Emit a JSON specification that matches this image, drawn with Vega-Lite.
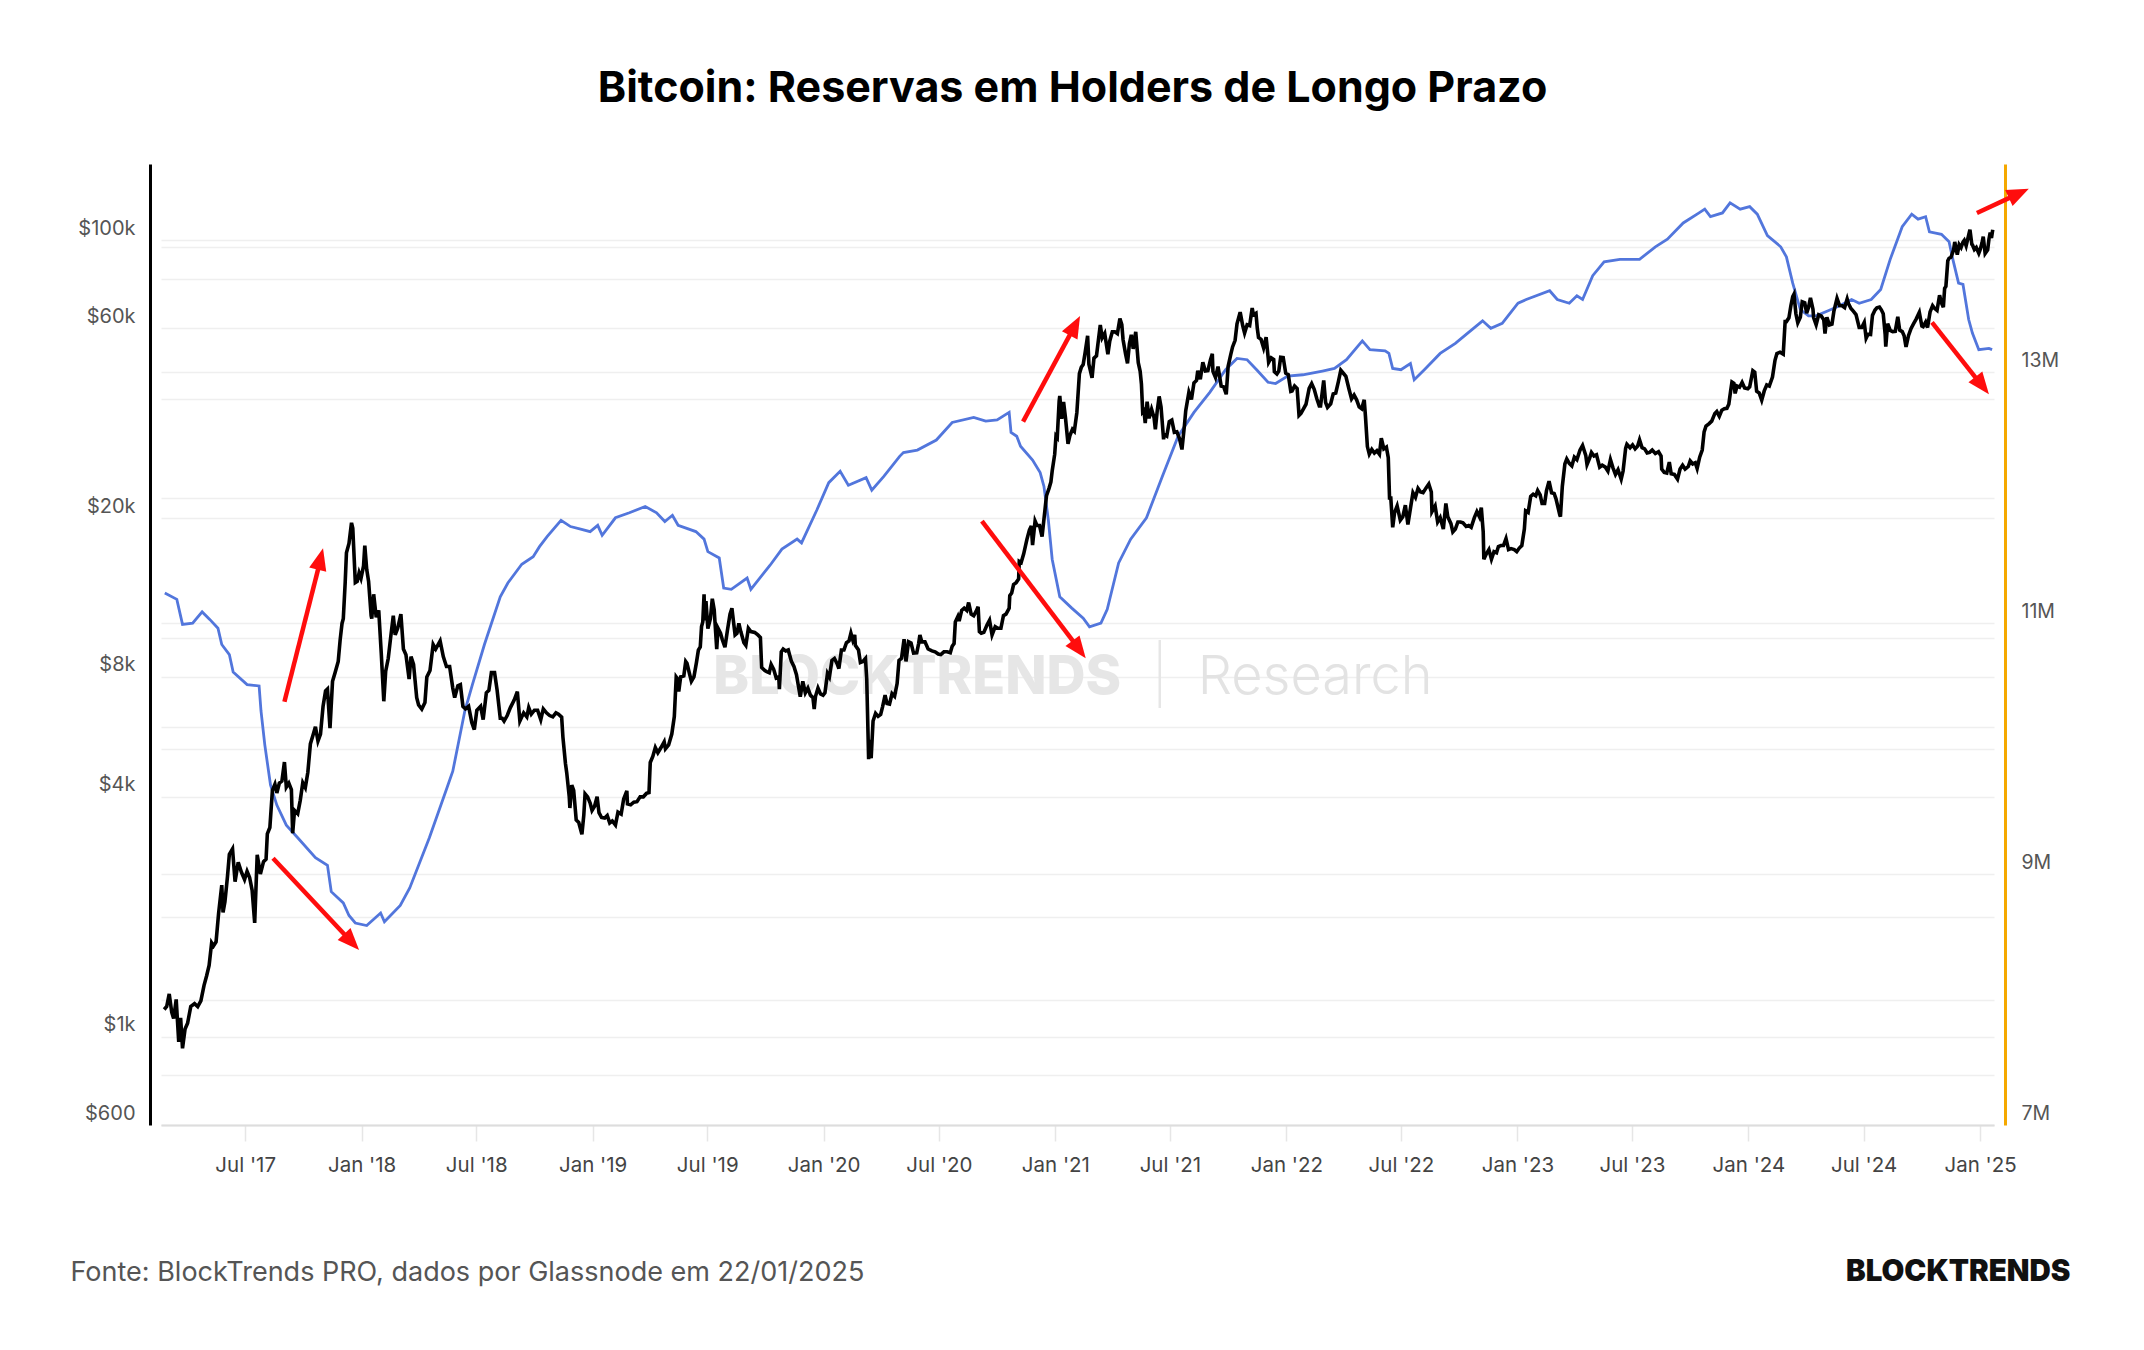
{
  "$schema": "https://vega.github.io/schema/vega-lite/v6.json",
  "width": 1833,
  "height": 961,
  "autosize": {"type": "none"},
  "padding": {"left": 161, "top": 164, "right": 150, "bottom": 225},
  "background": "white",
  "config": {"view": {"stroke": null}, "font": "Inter"},
  "title": {"text": "Bitcoin: Reservas em Holders de Longo Prazo", "font": "Inter", "fontSize": 43, "fontWeight": 700, "color": "#000000", "anchor": "middle", "frame": "group", "offset": 53, "dx": -5},
  "datasets": {
    "wm": [
      {"label": "BLOCKTRENDS", "date": "2021-04-15", "price": 7250},
      {"label": "Research", "date": "2021-08-14", "price": 7250}
    ],
    "wmsep": [{"date": "2021-06-15", "price": 9903, "price2": 6685}],
    "shafts": [
      {"id": 1, "date": "2017-09-01", "price": 6932, "date2": "2017-10-28", "price2": 15740},
      {"id": 2, "date": "2017-08-14", "price": 2804, "date2": "2017-12-15", "price2": 1736},
      {"id": 3, "date": "2020-11-11", "price": 34990, "date2": "2021-01-31", "price2": 60630},
      {"id": 4, "date": "2020-09-07", "price": 19700, "date2": "2021-02-07", "price2": 9419},
      {"id": 5, "date": "2024-12-27", "price": 116900, "date2": "2025-03-02", "price2": 130600},
      {"id": 6, "date": "2024-10-17", "price": 62150, "date2": "2025-01-03", "price2": 43280}
    ],
    "heads": [
      {"id": 1, "date": "2017-11-01", "price": 16836},
      {"id": 2, "date": "2017-12-28", "price": 1650},
      {"id": 3, "date": "2021-02-09", "price": 64470},
      {"id": 4, "date": "2021-02-18", "price": 8911},
      {"id": 5, "date": "2025-03-19", "price": 134500},
      {"id": 6, "date": "2025-01-15", "price": 41000}
    ],
    "lth": [
      {"date":"2017-02-24","supply":11.24},{"date":"2017-03-15","supply":11.19},{"date":"2017-03-24","supply":10.99},{"date":"2017-04-09","supply":11.00},{"date":"2017-04-24","supply":11.09},{"date":"2017-05-06","supply":11.03},{"date":"2017-05-19","supply":10.96},{"date":"2017-05-25","supply":10.83},{"date":"2017-06-06","supply":10.75},{"date":"2017-06-12","supply":10.61},{"date":"2017-07-04","supply":10.51},{"date":"2017-07-23","supply":10.50},{"date":"2017-07-26","supply":10.30},{"date":"2017-08-01","supply":10.03},{"date":"2017-08-10","supply":9.71},{"date":"2017-08-20","supply":9.55},{"date":"2017-09-04","supply":9.39},{"date":"2017-09-22","supply":9.29},{"date":"2017-10-20","supply":9.13},{"date":"2017-11-08","supply":9.07},{"date":"2017-11-14","supply":8.86},{"date":"2017-12-03","supply":8.77},{"date":"2017-12-12","supply":8.67},{"date":"2017-12-22","supply":8.61},
      {"date":"2018-01-09","supply":8.59},{"date":"2018-01-31","supply":8.69},{"date":"2018-02-06","supply":8.62},{"date":"2018-03-03","supply":8.75},{"date":"2018-03-18","supply":8.89},{"date":"2018-04-18","supply":9.29},{"date":"2018-05-16","supply":9.69},{"date":"2018-05-25","supply":9.82},{"date":"2018-06-13","supply":10.30},{"date":"2018-06-25","supply":10.51},{"date":"2018-07-14","supply":10.83},{"date":"2018-08-08","supply":11.21},{"date":"2018-08-20","supply":11.32},{"date":"2018-09-11","supply":11.47},{"date":"2018-09-29","supply":11.53},{"date":"2018-10-09","supply":11.61},{"date":"2018-10-21","supply":11.69},{"date":"2018-11-12","supply":11.82},{"date":"2018-11-27","supply":11.77},{"date":"2018-12-13","supply":11.75},{"date":"2018-12-28","supply":11.73},
      {"date":"2019-01-09","supply":11.78},{"date":"2019-01-16","supply":11.70},{"date":"2019-02-06","supply":11.84},{"date":"2019-02-28","supply":11.88},{"date":"2019-03-25","supply":11.93},{"date":"2019-04-12","supply":11.88},{"date":"2019-04-25","supply":11.81},{"date":"2019-05-07","supply":11.86},{"date":"2019-05-16","supply":11.78},{"date":"2019-06-13","supply":11.73},{"date":"2019-06-26","supply":11.67},{"date":"2019-07-02","supply":11.57},{"date":"2019-07-20","supply":11.52},{"date":"2019-07-27","supply":11.28},{"date":"2019-08-08","supply":11.27},{"date":"2019-09-02","supply":11.36},{"date":"2019-09-08","supply":11.27},{"date":"2019-10-08","supply":11.46},{"date":"2019-10-27","supply":11.59},{"date":"2019-11-20","supply":11.67},{"date":"2019-11-27","supply":11.64},{"date":"2019-12-21","supply":11.90},
      {"date":"2020-01-09","supply":12.12},{"date":"2020-01-27","supply":12.21},{"date":"2020-02-09","supply":12.10},{"date":"2020-03-08","supply":12.16},{"date":"2020-03-17","supply":12.06},{"date":"2020-04-05","supply":12.17},{"date":"2020-04-30","supply":12.33},{"date":"2020-05-06","supply":12.36},{"date":"2020-05-28","supply":12.38},{"date":"2020-06-27","supply":12.46},{"date":"2020-07-22","supply":12.60},{"date":"2020-08-25","supply":12.64},{"date":"2020-09-13","supply":12.61},{"date":"2020-10-01","supply":12.62},{"date":"2020-10-20","supply":12.68},{"date":"2020-10-23","supply":12.52},{"date":"2020-11-01","supply":12.49},{"date":"2020-11-07","supply":12.41},{"date":"2020-11-26","supply":12.30},{"date":"2020-12-08","supply":12.20},{"date":"2020-12-14","supply":12.09},{"date":"2020-12-21","supply":11.82},{"date":"2020-12-27","supply":11.51},
      {"date":"2021-01-08","supply":11.21},{"date":"2021-01-27","supply":11.12},{"date":"2021-02-14","supply":11.04},{"date":"2021-02-24","supply":10.97},{"date":"2021-03-14","supply":11.00},{"date":"2021-03-24","supply":11.11},{"date":"2021-04-11","supply":11.48},{"date":"2021-04-30","supply":11.67},{"date":"2021-05-25","supply":11.84},{"date":"2021-06-19","supply":12.17},{"date":"2021-07-14","supply":12.49},{"date":"2021-08-08","supply":12.68},{"date":"2021-09-02","supply":12.84},{"date":"2021-09-27","supply":13.02},{"date":"2021-10-15","supply":13.11},{"date":"2021-10-31","supply":13.10},{"date":"2021-11-15","supply":13.02},{"date":"2021-12-03","supply":12.92},{"date":"2021-12-15","supply":12.91},
      {"date":"2022-01-03","supply":12.97},{"date":"2022-01-27","supply":12.98},{"date":"2022-02-27","supply":13.01},{"date":"2022-03-18","supply":13.03},{"date":"2022-04-06","supply":13.10},{"date":"2022-05-01","supply":13.25},{"date":"2022-05-13","supply":13.18},{"date":"2022-06-06","supply":13.17},{"date":"2022-06-12","supply":13.15},{"date":"2022-06-18","supply":13.03},{"date":"2022-07-01","supply":13.02},{"date":"2022-07-16","supply":13.07},{"date":"2022-07-22","supply":12.94},{"date":"2022-08-07","supply":13.02},{"date":"2022-09-01","supply":13.15},{"date":"2022-09-25","supply":13.23},{"date":"2022-10-14","supply":13.31},{"date":"2022-11-07","supply":13.41},{"date":"2022-11-20","supply":13.35},{"date":"2022-12-08","supply":13.39},
      {"date":"2023-01-02","supply":13.55},{"date":"2023-01-15","supply":13.58},{"date":"2023-02-21","supply":13.65},{"date":"2023-03-05","supply":13.58},{"date":"2023-03-24","supply":13.55},{"date":"2023-04-05","supply":13.61},{"date":"2023-04-14","supply":13.58},{"date":"2023-04-30","supply":13.77},{"date":"2023-05-18","supply":13.88},{"date":"2023-06-12","supply":13.90},{"date":"2023-07-13","supply":13.90},{"date":"2023-08-07","supply":14.00},{"date":"2023-08-26","supply":14.06},{"date":"2023-09-20","supply":14.19},{"date":"2023-10-15","supply":14.27},{"date":"2023-10-24","supply":14.30},{"date":"2023-11-02","supply":14.24},{"date":"2023-11-21","supply":14.27},{"date":"2023-12-03","supply":14.35},{"date":"2023-12-19","supply":14.30},
      {"date":"2024-01-03","supply":14.32},{"date":"2024-01-15","supply":14.26},{"date":"2024-01-31","supply":14.09},{"date":"2024-02-21","supply":14.00},{"date":"2024-03-01","supply":13.92},{"date":"2024-03-11","supply":13.71},{"date":"2024-03-23","supply":13.50},{"date":"2024-04-05","supply":13.45},{"date":"2024-04-17","supply":13.45},{"date":"2024-05-06","supply":13.49},{"date":"2024-05-24","supply":13.53},{"date":"2024-06-12","supply":13.58},{"date":"2024-06-24","supply":13.55},{"date":"2024-07-13","supply":13.58},{"date":"2024-07-28","supply":13.66},{"date":"2024-08-12","supply":13.90},{"date":"2024-08-31","supply":14.16},{"date":"2024-09-15","supply":14.26},{"date":"2024-09-25","supply":14.22},{"date":"2024-10-07","supply":14.24},{"date":"2024-10-13","supply":14.12},{"date":"2024-11-01","supply":14.10},{"date":"2024-11-13","supply":14.04},{"date":"2024-11-19","supply":13.90},{"date":"2024-11-28","supply":13.71},{"date":"2024-12-05","supply":13.70},{"date":"2024-12-14","supply":13.42},{"date":"2024-12-20","supply":13.31},{"date":"2024-12-30","supply":13.18},{"date":"2025-01-15","supply":13.19},{"date":"2025-01-20","supply":13.18}
    ],
    "btc": [
      {"date":"2017-02-23","price":1170},{"date":"2017-02-27","price":1190},{"date":"2017-03-03","price":1280},{"date":"2017-03-07","price":1150},{"date":"2017-03-10","price":1110},{"date":"2017-03-14","price":1240},{"date":"2017-03-18","price":970},{"date":"2017-03-21","price":1115},{"date":"2017-03-24","price":935},{"date":"2017-03-28","price":1045},{"date":"2017-04-01","price":1080},{"date":"2017-04-06","price":1190},{"date":"2017-04-12","price":1210},{"date":"2017-04-17","price":1190},{"date":"2017-04-22","price":1230},{"date":"2017-04-27","price":1345},{"date":"2017-05-01","price":1420},{"date":"2017-05-05","price":1510},{"date":"2017-05-09","price":1720},{"date":"2017-05-12","price":1690},{"date":"2017-05-16","price":1730},{"date":"2017-05-20","price":2040},{"date":"2017-05-25","price":2400},{"date":"2017-05-27","price":2050},{"date":"2017-05-30","price":2180},{"date":"2017-06-03","price":2520},{"date":"2017-06-06","price":2870},{"date":"2017-06-11","price":2960},{"date":"2017-06-15","price":2450},{"date":"2017-06-20","price":2740},{"date":"2017-06-25","price":2590},{"date":"2017-06-30","price":2480},{"date":"2017-07-04","price":2600},{"date":"2017-07-08","price":2510},{"date":"2017-07-12","price":2330},{"date":"2017-07-16","price":1930},{"date":"2017-07-20","price":2860},{"date":"2017-07-25","price":2560},{"date":"2017-07-30","price":2750},{"date":"2017-08-03","price":2790},{"date":"2017-08-05","price":3230},{"date":"2017-08-09","price":3350},{"date":"2017-08-13","price":4150},{"date":"2017-08-17","price":4300},{"date":"2017-08-20","price":4090},{"date":"2017-08-24","price":4330},{"date":"2017-08-28","price":4380},{"date":"2017-09-01","price":4890},{"date":"2017-09-04","price":4230},{"date":"2017-09-08","price":4330},{"date":"2017-09-12","price":4170},{"date":"2017-09-14","price":3240},{"date":"2017-09-17","price":3700},{"date":"2017-09-22","price":3630},{"date":"2017-09-26","price":3920},{"date":"2017-09-30","price":4340},{"date":"2017-10-04","price":4220},{"date":"2017-10-08","price":4610},{"date":"2017-10-12","price":5430},{"date":"2017-10-16","price":5700},{"date":"2017-10-20","price":6000},{"date":"2017-10-24","price":5520},{"date":"2017-10-28","price":5750},{"date":"2017-11-01","price":6740},{"date":"2017-11-05","price":7380},{"date":"2017-11-08","price":7460},{"date":"2017-11-12","price":5950},{"date":"2017-11-16","price":7800},{"date":"2017-11-20","price":8200},{"date":"2017-11-25","price":8750},{"date":"2017-11-28","price":9900},{"date":"2017-12-01","price":10900},{"date":"2017-12-03","price":11200},{"date":"2017-12-06","price":13800},{"date":"2017-12-08","price":16400},{"date":"2017-12-12","price":17300},{"date":"2017-12-16","price":19500},{"date":"2017-12-18","price":18900},{"date":"2017-12-22","price":13800},{"date":"2017-12-25","price":13900},{"date":"2017-12-28","price":14600},{"date":"2017-12-31","price":14150},
      {"date":"2018-01-04","price":15200},{"date":"2018-01-06","price":17100},{"date":"2018-01-09","price":14900},{"date":"2018-01-12","price":13900},{"date":"2018-01-16","price":11400},{"date":"2018-01-17","price":11200},{"date":"2018-01-20","price":12900},{"date":"2018-01-24","price":11300},{"date":"2018-01-28","price":11750},{"date":"2018-02-01","price":9170},{"date":"2018-02-05","price":6950},{"date":"2018-02-08","price":8270},{"date":"2018-02-12","price":8900},{"date":"2018-02-16","price":10100},{"date":"2018-02-20","price":11400},{"date":"2018-02-23","price":10200},{"date":"2018-02-27","price":10600},{"date":"2018-03-04","price":11500},{"date":"2018-03-08","price":9400},{"date":"2018-03-12","price":9100},{"date":"2018-03-17","price":7900},{"date":"2018-03-20","price":9000},{"date":"2018-03-24","price":8600},{"date":"2018-03-29","price":7100},{"date":"2018-04-01","price":6800},{"date":"2018-04-06","price":6640},{"date":"2018-04-11","price":6900},{"date":"2018-04-14","price":8000},{"date":"2018-04-19","price":8300},{"date":"2018-04-24","price":9650},{"date":"2018-04-28","price":9400},{"date":"2018-05-05","price":9850},{"date":"2018-05-10","price":9000},{"date":"2018-05-15","price":8500},{"date":"2018-05-20","price":8500},{"date":"2018-05-25","price":7500},{"date":"2018-05-28","price":7100},{"date":"2018-06-02","price":7600},{"date":"2018-06-06","price":7650},{"date":"2018-06-10","price":6750},{"date":"2018-06-14","price":6650},{"date":"2018-06-19","price":6750},{"date":"2018-06-24","price":6150},{"date":"2018-06-28","price":5900},{"date":"2018-07-02","price":6600},{"date":"2018-07-08","price":6750},{"date":"2018-07-12","price":6250},{"date":"2018-07-17","price":7300},{"date":"2018-07-21","price":7400},{"date":"2018-07-25","price":8200},{"date":"2018-07-30","price":8200},{"date":"2018-08-03","price":7420},{"date":"2018-08-08","price":6300},{"date":"2018-08-11","price":6300},{"date":"2018-08-14","price":6200},{"date":"2018-08-19","price":6400},{"date":"2018-08-24","price":6700},{"date":"2018-08-30","price":7000},{"date":"2018-09-04","price":7350},{"date":"2018-09-08","price":6200},{"date":"2018-09-14","price":6500},{"date":"2018-09-19","price":6350},{"date":"2018-09-22","price":6700},{"date":"2018-09-26","price":6450},{"date":"2018-10-01","price":6600},{"date":"2018-10-06","price":6600},{"date":"2018-10-11","price":6250},{"date":"2018-10-15","price":6650},{"date":"2018-10-20","price":6500},{"date":"2018-10-25","price":6400},{"date":"2018-10-30","price":6350},{"date":"2018-11-04","price":6500},{"date":"2018-11-08","price":6450},{"date":"2018-11-13","price":6340},{"date":"2018-11-15","price":5650},{"date":"2018-11-19","price":4850},{"date":"2018-11-21","price":4600},{"date":"2018-11-25","price":4000},{"date":"2018-11-26","price":3750},{"date":"2018-11-29","price":4280},{"date":"2018-12-02","price":4150},{"date":"2018-12-06","price":3500},{"date":"2018-12-10","price":3450},{"date":"2018-12-15","price":3220},{"date":"2018-12-18","price":3600},{"date":"2018-12-20","price":4070},{"date":"2018-12-24","price":4000},{"date":"2018-12-28","price":3860},{"date":"2018-12-31","price":3700},
      {"date":"2019-01-04","price":3790},{"date":"2019-01-08","price":4000},{"date":"2019-01-11","price":3650},{"date":"2019-01-15","price":3550},{"date":"2019-01-20","price":3540},{"date":"2019-01-24","price":3590},{"date":"2019-01-28","price":3440},{"date":"2019-02-01","price":3480},{"date":"2019-02-06","price":3400},{"date":"2019-02-10","price":3660},{"date":"2019-02-15","price":3620},{"date":"2019-02-19","price":3950},{"date":"2019-02-24","price":4140},{"date":"2019-02-25","price":3840},{"date":"2019-03-02","price":3820},{"date":"2019-03-07","price":3880},{"date":"2019-03-12","price":3890},{"date":"2019-03-17","price":4000},{"date":"2019-03-22","price":4000},{"date":"2019-03-27","price":4080},{"date":"2019-03-31","price":4100},{"date":"2019-04-02","price":4880},{"date":"2019-04-06","price":5050},{"date":"2019-04-10","price":5320},{"date":"2019-04-14","price":5160},{"date":"2019-04-19","price":5320},{"date":"2019-04-24","price":5500},{"date":"2019-04-26","price":5280},{"date":"2019-05-01","price":5400},{"date":"2019-05-06","price":5750},{"date":"2019-05-10","price":6360},{"date":"2019-05-13","price":8000},{"date":"2019-05-16","price":7880},{"date":"2019-05-17","price":7350},{"date":"2019-05-20","price":8000},{"date":"2019-05-25","price":8050},{"date":"2019-05-28","price":8750},{"date":"2019-05-30","price":8660},{"date":"2019-06-03","price":8150},{"date":"2019-06-06","price":7800},{"date":"2019-06-10","price":8000},{"date":"2019-06-14","price":8700},{"date":"2019-06-17","price":9340},{"date":"2019-06-20","price":9520},{"date":"2019-06-22","price":10700},{"date":"2019-06-24","price":11000},{"date":"2019-06-26","price":12900},{"date":"2019-06-27","price":11100},{"date":"2019-06-29","price":12400},{"date":"2019-07-02","price":10580},{"date":"2019-07-06","price":11200},{"date":"2019-07-09","price":12570},{"date":"2019-07-12","price":11800},{"date":"2019-07-16","price":9400},{"date":"2019-07-18","price":10600},{"date":"2019-07-22","price":10300},{"date":"2019-07-25","price":9900},{"date":"2019-07-29","price":9500},{"date":"2019-08-02","price":10500},{"date":"2019-08-06","price":11500},{"date":"2019-08-09","price":11900},{"date":"2019-08-14","price":10200},{"date":"2019-08-17","price":10300},{"date":"2019-08-20","price":10900},{"date":"2019-08-23","price":10400},{"date":"2019-08-28","price":9750},{"date":"2019-08-31","price":9600},{"date":"2019-09-04","price":10600},{"date":"2019-09-08","price":10400},{"date":"2019-09-14","price":10350},{"date":"2019-09-19","price":10200},{"date":"2019-09-23","price":10050},{"date":"2019-09-25","price":8450},{"date":"2019-09-30","price":8300},{"date":"2019-10-03","price":8250},{"date":"2019-10-07","price":8200},{"date":"2019-10-10","price":8600},{"date":"2019-10-14","price":8360},{"date":"2019-10-18","price":7950},{"date":"2019-10-22","price":8000},{"date":"2019-10-23","price":7450},{"date":"2019-10-26","price":9250},{"date":"2019-10-29","price":9400},{"date":"2019-11-02","price":9300},{"date":"2019-11-06","price":9350},{"date":"2019-11-11","price":8750},{"date":"2019-11-15","price":8500},{"date":"2019-11-19","price":8100},{"date":"2019-11-22","price":7600},{"date":"2019-11-25","price":7140},{"date":"2019-11-29","price":7800},{"date":"2019-12-03","price":7300},{"date":"2019-12-07","price":7500},{"date":"2019-12-11","price":7200},{"date":"2019-12-15","price":7100},{"date":"2019-12-17","price":6640},{"date":"2019-12-19","price":7140},{"date":"2019-12-23","price":7500},{"date":"2019-12-27","price":7250},{"date":"2019-12-31","price":7200},
      {"date":"2020-01-03","price":7300},{"date":"2020-01-07","price":8160},{"date":"2020-01-10","price":8000},{"date":"2020-01-14","price":8800},{"date":"2020-01-18","price":8900},{"date":"2020-01-22","price":8650},{"date":"2020-01-25","price":8400},{"date":"2020-01-29","price":9350},{"date":"2020-02-02","price":9350},{"date":"2020-02-06","price":9750},{"date":"2020-02-10","price":9850},{"date":"2020-02-13","price":10300},{"date":"2020-02-16","price":9900},{"date":"2020-02-19","price":10200},{"date":"2020-02-20","price":9600},{"date":"2020-02-25","price":9350},{"date":"2020-02-28","price":8700},{"date":"2020-03-03","price":8750},{"date":"2020-03-07","price":8900},{"date":"2020-03-09","price":7900},{"date":"2020-03-12","price":4970},{"date":"2020-03-13","price":5560},{"date":"2020-03-16","price":5000},{"date":"2020-03-19","price":6200},{"date":"2020-03-23","price":6480},{"date":"2020-03-27","price":6370},{"date":"2020-03-31","price":6440},{"date":"2020-04-03","price":6730},{"date":"2020-04-07","price":7200},{"date":"2020-04-10","price":6860},{"date":"2020-04-14","price":6840},{"date":"2020-04-18","price":7260},{"date":"2020-04-22","price":7150},{"date":"2020-04-26","price":7700},{"date":"2020-04-29","price":8800},{"date":"2020-05-03","price":8910},{"date":"2020-05-07","price":9950},{"date":"2020-05-10","price":8750},{"date":"2020-05-14","price":9800},{"date":"2020-05-18","price":9730},{"date":"2020-05-22","price":9180},{"date":"2020-05-27","price":9200},{"date":"2020-05-30","price":9700},{"date":"2020-06-01","price":10200},{"date":"2020-06-04","price":9800},{"date":"2020-06-09","price":9800},{"date":"2020-06-14","price":9400},{"date":"2020-06-20","price":9300},{"date":"2020-06-25","price":9250},{"date":"2020-06-30","price":9130},{"date":"2020-07-04","price":9100},{"date":"2020-07-09","price":9250},{"date":"2020-07-14","price":9250},{"date":"2020-07-19","price":9200},{"date":"2020-07-22","price":9550},{"date":"2020-07-25","price":9700},{"date":"2020-07-27","price":11000},{"date":"2020-07-31","price":11350},{"date":"2020-08-02","price":11050},{"date":"2020-08-06","price":11750},{"date":"2020-08-10","price":11900},{"date":"2020-08-14","price":11750},{"date":"2020-08-17","price":12300},{"date":"2020-08-21","price":11500},{"date":"2020-08-25","price":11400},{"date":"2020-08-29","price":11700},{"date":"2020-09-01","price":12000},{"date":"2020-09-03","price":10400},{"date":"2020-09-06","price":10300},{"date":"2020-09-10","price":10350},{"date":"2020-09-15","price":10800},{"date":"2020-09-19","price":11100},{"date":"2020-09-23","price":10200},{"date":"2020-09-28","price":10700},{"date":"2020-10-02","price":10600},{"date":"2020-10-07","price":10600},{"date":"2020-10-11","price":11400},{"date":"2020-10-15","price":11500},{"date":"2020-10-20","price":11900},{"date":"2020-10-21","price":12800},{"date":"2020-10-24","price":13000},{"date":"2020-10-27","price":13650},{"date":"2020-10-31","price":13800},{"date":"2020-11-04","price":14100},{"date":"2020-11-05","price":15600},{"date":"2020-11-08","price":15500},{"date":"2020-11-12","price":16300},{"date":"2020-11-17","price":17700},{"date":"2020-11-21","price":18700},{"date":"2020-11-24","price":19150},{"date":"2020-11-26","price":17150},{"date":"2020-11-30","price":19700},{"date":"2020-12-03","price":19200},{"date":"2020-12-07","price":19200},{"date":"2020-12-11","price":18000},{"date":"2020-12-16","price":21300},{"date":"2020-12-18","price":22800},{"date":"2020-12-22","price":23800},{"date":"2020-12-25","price":24700},{"date":"2020-12-27","price":26300},{"date":"2020-12-31","price":29000},
      {"date":"2021-01-02","price":32200},{"date":"2021-01-04","price":31900},{"date":"2021-01-07","price":39400},{"date":"2021-01-08","price":40600},{"date":"2021-01-11","price":35600},{"date":"2021-01-14","price":39200},{"date":"2021-01-17","price":35800},{"date":"2021-01-21","price":30800},{"date":"2021-01-24","price":32300},{"date":"2021-01-28","price":33500},{"date":"2021-01-31","price":33100},{"date":"2021-02-04","price":36900},{"date":"2021-02-08","price":46200},{"date":"2021-02-11","price":47900},{"date":"2021-02-14","price":48700},{"date":"2021-02-17","price":52100},{"date":"2021-02-21","price":57500},{"date":"2021-02-23","price":48800},{"date":"2021-02-28","price":45100},{"date":"2021-03-03","price":50500},{"date":"2021-03-07","price":51200},{"date":"2021-03-10","price":56000},{"date":"2021-03-13","price":61200},{"date":"2021-03-16","price":56800},{"date":"2021-03-20","price":58300},{"date":"2021-03-25","price":51700},{"date":"2021-03-28","price":55800},{"date":"2021-04-01","price":58800},{"date":"2021-04-05","price":58800},{"date":"2021-04-09","price":58200},{"date":"2021-04-13","price":63500},{"date":"2021-04-16","price":61300},{"date":"2021-04-18","price":56200},{"date":"2021-04-22","price":51700},{"date":"2021-04-25","price":49000},{"date":"2021-04-28","price":54900},{"date":"2021-05-01","price":57800},{"date":"2021-05-04","price":53300},{"date":"2021-05-08","price":58800},{"date":"2021-05-12","price":49200},{"date":"2021-05-15","price":46800},{"date":"2021-05-17","price":43500},{"date":"2021-05-19","price":37000},{"date":"2021-05-21","price":37300},{"date":"2021-05-23","price":34700},{"date":"2021-05-26","price":39300},{"date":"2021-05-29","price":35700},{"date":"2021-06-02","price":37600},{"date":"2021-06-06","price":35800},{"date":"2021-06-08","price":33500},{"date":"2021-06-11","price":37300},{"date":"2021-06-14","price":40500},{"date":"2021-06-17","price":38100},{"date":"2021-06-21","price":31600},{"date":"2021-06-22","price":32500},{"date":"2021-06-26","price":32200},{"date":"2021-06-30","price":35000},{"date":"2021-07-04","price":35300},{"date":"2021-07-08","price":32900},{"date":"2021-07-12","price":33000},{"date":"2021-07-16","price":31800},{"date":"2021-07-20","price":29800},{"date":"2021-07-24","price":34300},{"date":"2021-07-26","price":37300},{"date":"2021-07-31","price":41500},{"date":"2021-08-04","price":39800},{"date":"2021-08-08","price":43800},{"date":"2021-08-12","price":44400},{"date":"2021-08-14","price":47000},{"date":"2021-08-18","price":44700},{"date":"2021-08-22","price":49300},{"date":"2021-08-26","price":46900},{"date":"2021-08-30","price":47000},{"date":"2021-09-03","price":50000},{"date":"2021-09-06","price":51800},{"date":"2021-09-07","price":46800},{"date":"2021-09-11","price":45200},{"date":"2021-09-15","price":48100},{"date":"2021-09-20","price":43000},{"date":"2021-09-24","price":42800},{"date":"2021-09-28","price":41000},{"date":"2021-10-01","price":48200},{"date":"2021-10-05","price":51500},{"date":"2021-10-08","price":53900},{"date":"2021-10-12","price":56000},{"date":"2021-10-15","price":61600},{"date":"2021-10-20","price":65900},{"date":"2021-10-24","price":61000},{"date":"2021-10-27","price":58400},{"date":"2021-10-31","price":61300},{"date":"2021-11-04","price":61000},{"date":"2021-11-08","price":67500},{"date":"2021-11-10","price":64900},{"date":"2021-11-14","price":65500},{"date":"2021-11-16","price":60100},{"date":"2021-11-18","price":56900},{"date":"2021-11-22","price":56300},{"date":"2021-11-26","price":53600},{"date":"2021-11-30","price":57000},{"date":"2021-12-04","price":49300},{"date":"2021-12-08","price":50600},{"date":"2021-12-12","price":50100},{"date":"2021-12-13","price":46700},{"date":"2021-12-17","price":46100},{"date":"2021-12-20","price":46900},{"date":"2021-12-23","price":50800},{"date":"2021-12-27","price":50700},{"date":"2021-12-31","price":46300},
      {"date":"2022-01-04","price":45900},{"date":"2022-01-08","price":41700},{"date":"2022-01-10","price":41800},{"date":"2022-01-14","price":43000},{"date":"2022-01-18","price":42400},{"date":"2022-01-21","price":36300},{"date":"2022-01-24","price":36700},{"date":"2022-01-28","price":37700},{"date":"2022-02-01","price":38700},{"date":"2022-02-06","price":42400},{"date":"2022-02-10","price":43600},{"date":"2022-02-14","price":42200},{"date":"2022-02-18","price":40000},{"date":"2022-02-22","price":38300},{"date":"2022-02-24","price":38300},{"date":"2022-03-01","price":44400},{"date":"2022-03-04","price":39100},{"date":"2022-03-07","price":38000},{"date":"2022-03-12","price":38800},{"date":"2022-03-16","price":41100},{"date":"2022-03-20","price":41300},{"date":"2022-03-24","price":44000},{"date":"2022-03-28","price":47100},{"date":"2022-04-01","price":46300},{"date":"2022-04-05","price":45500},{"date":"2022-04-10","price":42200},{"date":"2022-04-14","price":39900},{"date":"2022-04-18","price":40800},{"date":"2022-04-22","price":39700},{"date":"2022-04-26","price":38100},{"date":"2022-04-30","price":37700},{"date":"2022-05-04","price":39700},{"date":"2022-05-06","price":36000},{"date":"2022-05-09","price":30300},{"date":"2022-05-12","price":29000},{"date":"2022-05-16","price":29800},{"date":"2022-05-20","price":29200},{"date":"2022-05-24","price":29600},{"date":"2022-05-28","price":29000},{"date":"2022-05-31","price":31800},{"date":"2022-06-04","price":29900},{"date":"2022-06-08","price":30200},{"date":"2022-06-11","price":28400},{"date":"2022-06-13","price":22500},{"date":"2022-06-15","price":22500},{"date":"2022-06-18","price":19000},{"date":"2022-06-21","price":20700},{"date":"2022-06-25","price":21500},{"date":"2022-06-30","price":19800},{"date":"2022-07-04","price":20200},{"date":"2022-07-08","price":21600},{"date":"2022-07-12","price":19300},{"date":"2022-07-16","price":21200},{"date":"2022-07-20","price":23200},{"date":"2022-07-24","price":22600},{"date":"2022-07-28","price":23800},{"date":"2022-08-01","price":23300},{"date":"2022-08-05","price":23200},{"date":"2022-08-10","price":23900},{"date":"2022-08-14","price":24400},{"date":"2022-08-18","price":23300},{"date":"2022-08-19","price":20800},{"date":"2022-08-24","price":21500},{"date":"2022-08-28","price":19600},{"date":"2022-09-01","price":20100},{"date":"2022-09-06","price":18800},{"date":"2022-09-10","price":21800},{"date":"2022-09-13","price":20200},{"date":"2022-09-18","price":19400},{"date":"2022-09-21","price":18500},{"date":"2022-09-25","price":18800},{"date":"2022-09-29","price":19600},{"date":"2022-10-03","price":19600},{"date":"2022-10-07","price":19500},{"date":"2022-10-12","price":19100},{"date":"2022-10-16","price":19200},{"date":"2022-10-20","price":19000},{"date":"2022-10-25","price":20100},{"date":"2022-10-29","price":20800},{"date":"2022-11-02","price":20200},{"date":"2022-11-05","price":21300},{"date":"2022-11-08","price":18500},{"date":"2022-11-09","price":15800},{"date":"2022-11-13","price":16300},{"date":"2022-11-17","price":16700},{"date":"2022-11-21","price":15800},{"date":"2022-11-25","price":16500},{"date":"2022-11-29","price":16400},{"date":"2022-12-02","price":17000},{"date":"2022-12-06","price":17100},{"date":"2022-12-10","price":17100},{"date":"2022-12-14","price":17800},{"date":"2022-12-18","price":16700},{"date":"2022-12-22","price":16800},{"date":"2022-12-27","price":16700},{"date":"2022-12-31","price":16500},
      {"date":"2023-01-04","price":16850},{"date":"2023-01-08","price":17100},{"date":"2023-01-12","price":18800},{"date":"2023-01-14","price":20900},{"date":"2023-01-18","price":20700},{"date":"2023-01-22","price":22700},{"date":"2023-01-26","price":23000},{"date":"2023-01-30","price":22800},{"date":"2023-02-02","price":23500},{"date":"2023-02-06","price":22900},{"date":"2023-02-09","price":21800},{"date":"2023-02-13","price":21800},{"date":"2023-02-16","price":23500},{"date":"2023-02-20","price":24800},{"date":"2023-02-24","price":23200},{"date":"2023-02-28","price":23100},{"date":"2023-03-03","price":22400},{"date":"2023-03-09","price":20400},{"date":"2023-03-10","price":20200},{"date":"2023-03-13","price":24100},{"date":"2023-03-17","price":27400},{"date":"2023-03-20","price":28200},{"date":"2023-03-24","price":27500},{"date":"2023-03-28","price":27100},{"date":"2023-04-01","price":28500},{"date":"2023-04-05","price":28100},{"date":"2023-04-10","price":29700},{"date":"2023-04-14","price":30500},{"date":"2023-04-19","price":28800},{"date":"2023-04-21","price":27300},{"date":"2023-04-25","price":28300},{"date":"2023-04-28","price":29300},{"date":"2023-05-02","price":28700},{"date":"2023-05-06","price":28900},{"date":"2023-05-11","price":26900},{"date":"2023-05-15","price":27200},{"date":"2023-05-20","price":26900},{"date":"2023-05-24","price":26300},{"date":"2023-05-28","price":28100},{"date":"2023-06-01","price":26800},{"date":"2023-06-05","price":25800},{"date":"2023-06-09","price":26500},{"date":"2023-06-14","price":25100},{"date":"2023-06-17","price":26300},{"date":"2023-06-21","price":30000},{"date":"2023-06-23","price":30700},{"date":"2023-06-28","price":30100},{"date":"2023-07-02","price":30600},{"date":"2023-07-06","price":29900},{"date":"2023-07-10","price":30400},{"date":"2023-07-13","price":31500},{"date":"2023-07-17","price":30100},{"date":"2023-07-21","price":29900},{"date":"2023-07-25","price":29200},{"date":"2023-07-29","price":29300},{"date":"2023-08-02","price":29700},{"date":"2023-08-07","price":29100},{"date":"2023-08-12","price":29400},{"date":"2023-08-16","price":28700},{"date":"2023-08-17","price":26600},{"date":"2023-08-21","price":26100},{"date":"2023-08-25","price":26000},{"date":"2023-08-29","price":27700},{"date":"2023-09-01","price":25900},{"date":"2023-09-06","price":25800},{"date":"2023-09-11","price":25100},{"date":"2023-09-15","price":26600},{"date":"2023-09-19","price":27200},{"date":"2023-09-23","price":26600},{"date":"2023-09-28","price":27000},{"date":"2023-10-01","price":27900},{"date":"2023-10-05","price":27400},{"date":"2023-10-09","price":27600},{"date":"2023-10-12","price":26700},{"date":"2023-10-16","price":28500},{"date":"2023-10-20","price":29700},{"date":"2023-10-23","price":33000},{"date":"2023-10-26","price":34100},{"date":"2023-10-31","price":34600},{"date":"2023-11-04","price":35100},{"date":"2023-11-09","price":36700},{"date":"2023-11-12","price":37100},{"date":"2023-11-16","price":36100},{"date":"2023-11-20","price":37400},{"date":"2023-11-24","price":37700},{"date":"2023-11-28","price":37800},{"date":"2023-12-01","price":38700},{"date":"2023-12-04","price":41900},{"date":"2023-12-06","price":44000},{"date":"2023-12-09","price":43700},{"date":"2023-12-11","price":41200},{"date":"2023-12-14","price":43000},{"date":"2023-12-18","price":42700},{"date":"2023-12-22","price":43900},{"date":"2023-12-26","price":42500},{"date":"2023-12-31","price":42300},
      {"date":"2024-01-03","price":42800},{"date":"2024-01-08","price":47000},{"date":"2024-01-11","price":46600},{"date":"2024-01-14","price":41700},{"date":"2024-01-18","price":41300},{"date":"2024-01-22","price":39600},{"date":"2024-01-26","price":41800},{"date":"2024-01-30","price":43300},{"date":"2024-02-03","price":43000},{"date":"2024-02-08","price":45300},{"date":"2024-02-12","price":49900},{"date":"2024-02-15","price":51900},{"date":"2024-02-20","price":52300},{"date":"2024-02-25","price":51700},{"date":"2024-02-28","price":62400},{"date":"2024-03-01","price":62400},{"date":"2024-03-05","price":63800},{"date":"2024-03-08","price":68300},{"date":"2024-03-11","price":72100},{"date":"2024-03-13","price":73100},{"date":"2024-03-16","price":65300},{"date":"2024-03-19","price":62000},{"date":"2024-03-23","price":64000},{"date":"2024-03-26","price":70000},{"date":"2024-03-30","price":69600},{"date":"2024-04-02","price":65500},{"date":"2024-04-05","price":67800},{"date":"2024-04-08","price":71600},{"date":"2024-04-12","price":67000},{"date":"2024-04-13","price":63900},{"date":"2024-04-17","price":61300},{"date":"2024-04-21","price":64900},{"date":"2024-04-25","price":64500},{"date":"2024-04-29","price":63100},{"date":"2024-05-01","price":58200},{"date":"2024-05-04","price":64000},{"date":"2024-05-08","price":61200},{"date":"2024-05-12","price":61500},{"date":"2024-05-15","price":66200},{"date":"2024-05-20","price":71400},{"date":"2024-05-24","price":68500},{"date":"2024-05-28","price":68400},{"date":"2024-06-01","price":67700},{"date":"2024-06-05","price":71100},{"date":"2024-06-07","price":69300},{"date":"2024-06-11","price":67300},{"date":"2024-06-15","price":66200},{"date":"2024-06-19","price":65000},{"date":"2024-06-24","price":60300},{"date":"2024-06-28","price":60300},{"date":"2024-07-02","price":62100},{"date":"2024-07-05","price":56700},{"date":"2024-07-08","price":58000},{"date":"2024-07-12","price":57900},{"date":"2024-07-15","price":64700},{"date":"2024-07-19","price":66700},{"date":"2024-07-22","price":67600},{"date":"2024-07-26","price":67900},{"date":"2024-07-29","price":66800},{"date":"2024-08-01","price":65300},{"date":"2024-08-04","price":58100},{"date":"2024-08-05","price":54000},{"date":"2024-08-08","price":61700},{"date":"2024-08-12","price":59300},{"date":"2024-08-16","price":58900},{"date":"2024-08-20","price":59000},{"date":"2024-08-24","price":64200},{"date":"2024-08-27","price":59400},{"date":"2024-08-31","price":58900},{"date":"2024-09-03","price":57500},{"date":"2024-09-06","price":53900},{"date":"2024-09-10","price":57600},{"date":"2024-09-14","price":60000},{"date":"2024-09-18","price":61700},{"date":"2024-09-22","price":63300},{"date":"2024-09-27","price":65800},{"date":"2024-10-01","price":60800},{"date":"2024-10-03","price":60600},{"date":"2024-10-07","price":62200},{"date":"2024-10-10","price":60300},{"date":"2024-10-14","price":66000},{"date":"2024-10-18","price":68400},{"date":"2024-10-21","price":67400},{"date":"2024-10-25","price":66600},{"date":"2024-10-29","price":72700},{"date":"2024-11-01","price":69500},{"date":"2024-11-04","price":67800},{"date":"2024-11-06","price":75600},{"date":"2024-11-08","price":76500},{"date":"2024-11-11","price":88700},{"date":"2024-11-13","price":90000},{"date":"2024-11-16","price":90500},{"date":"2024-11-20","price":94300},{"date":"2024-11-22","price":98900},{"date":"2024-11-26","price":91900},{"date":"2024-11-29","price":97400},{"date":"2024-12-02","price":95800},{"date":"2024-12-05","price":98800},{"date":"2024-12-07","price":99800},{"date":"2024-12-10","price":96700},{"date":"2024-12-13","price":101400},{"date":"2024-12-16","price":106100},{"date":"2024-12-19","price":97500},{"date":"2024-12-20","price":97200},{"date":"2024-12-23","price":94700},{"date":"2024-12-26","price":95800},{"date":"2024-12-30","price":92600},
      {"date":"2025-01-01","price":94400},{"date":"2025-01-04","price":98300},{"date":"2025-01-06","price":102000},{"date":"2025-01-09","price":92500},{"date":"2025-01-13","price":94500},{"date":"2025-01-15","price":100500},{"date":"2025-01-17","price":104400},{"date":"2025-01-19","price":101200},{"date":"2025-01-21","price":106100}
    ]
  },
  "encoding": {
    "x": {
      "field": "date", "type": "temporal",
      "scale": {"type": "utc", "domain": [{"year": 2017, "month": 2, "date": 18, "utc": true}, {"year": 2025, "month": 1, "date": 23, "utc": true}], "nice": false},
      "axis": {
        "format": "%b '%y", "tickCount": {"interval": "month", "step": 6},
        "grid": false, "domainColor": "#dddddd", "domainWidth": 2,
        "ticks": true, "tickColor": "#e6e6e6", "tickSize": 16, "tickWidth": 1.5,
        "labelFont": "Inter", "labelFontSize": 20.5, "labelColor": "#444444", "labelPadding": 14, "labelFlush": false, "labelOverlap": false,
        "title": "Fonte: BlockTrends PRO, dados por Glassnode em 22/01/2025",
        "titleX": -91, "titleY": 155, "titleAlign": "left", "titleBaseline": "alphabetic",
        "titleFont": "Inter", "titleFontSize": 27, "titleFontWeight": 400, "titleColor": "#555555"
      }
    }
  },
  "layer": [
    {
      "data": {"name": "wm"},
      "transform": [{"filter": "datum.label == 'BLOCKTRENDS'"}],
      "mark": {"type": "text", "align": "right", "baseline": "alphabetic", "font": "Inter", "fontWeight": 800, "fontSize": 54, "color": "#e6e6e6"},
      "encoding": {
        "y": {"field": "price", "type": "quantitative", "scale": {"type": "log", "domain": [600, 155200], "nice": false}, "axis": null},
        "text": {"field": "label"}
      }
    },
    {
      "data": {"name": "wm"},
      "transform": [{"filter": "datum.label == 'Research'"}],
      "mark": {"type": "text", "align": "left", "baseline": "alphabetic", "font": "Inter", "fontWeight": 300, "fontSize": 54, "color": "#e3e3e3"},
      "encoding": {
        "y": {"field": "price", "type": "quantitative", "scale": {"type": "log", "domain": [600, 155200], "nice": false}, "axis": null},
        "text": {"field": "label"}
      }
    },
    {
      "data": {"name": "wmsep"},
      "mark": {"type": "rule", "color": "#e6e6e6", "strokeWidth": 2.5},
      "encoding": {
        "y": {"field": "price", "type": "quantitative", "scale": {"type": "log", "domain": [600, 155200], "nice": false}, "axis": null},
        "y2": {"field": "price2"}
      }
    },
    {
      "data": {"name": "lth"},
      "mark": {"type": "line", "color": "#5276dc", "strokeWidth": 2.8, "interpolate": "linear"},
      "encoding": {
        "y": {
          "field": "supply", "type": "quantitative",
          "scale": {"domain": [7, 14.66], "nice": false, "zero": false},
          "axis": {
            "orient": "right", "offset": 11, "values": [7, 8, 9, 10, 11, 12, 13, 14],
            "labelExpr": "datum.value % 2 == 1 ? datum.value + 'M' : ''",
            "domain": true, "domainColor": "#f5a800", "domainWidth": 3,
            "ticks": false, "grid": true, "gridColor": "#efefef", "gridWidth": 1.5,
            "labelFont": "Inter", "labelFontSize": 19.5, "labelColor": "#555555", "labelPadding": 16, "labelOffset": -12, "labelOverlap": false, "labelFlush": false,
            "title": null
          }
        }
      }
    },
    {
      "data": {"name": "btc"},
      "mark": {"type": "line", "color": "#000000", "strokeWidth": 3.6, "interpolate": "linear"},
      "encoding": {
        "y": {
          "field": "price", "type": "quantitative",
          "scale": {"type": "log", "domain": [600, 155200], "nice": false},
          "axis": {
            "orient": "left", "offset": 11,
            "values": [600, 800, 1000, 2000, 4000, 6000, 8000, 10000, 20000, 40000, 60000, 80000, 100000],
            "labelExpr": "indexof([600, 1000, 4000, 8000, 20000, 60000, 100000], datum.value) < 0 ? '' : (datum.value >= 1000 ? '$' + (datum.value / 1000) + 'k' : '$' + datum.value)",
            "domain": true, "domainColor": "#000000", "domainWidth": 3,
            "ticks": false, "grid": true, "gridColor": "#efefef", "gridWidth": 1.5,
            "labelFont": "Inter", "labelFontSize": 20, "labelColor": "#555555", "labelPadding": 15, "labelOffset": -12, "labelOverlap": false, "labelFlush": false,
            "title": "BLOCKTRENDS", "titleAngle": 0, "titleX": 1920, "titleY": 1116, "titleAlign": "right", "titleBaseline": "alphabetic",
            "titleFont": "Inter", "titleFontSize": 29.5, "titleFontWeight": 900, "titleColor": "#111111"
          }
        }
      }
    },
    {
      "data": {"name": "shafts"},
      "mark": {"type": "rule", "color": "#ff0d0d", "strokeWidth": 4.5, "strokeCap": "butt"},
      "encoding": {
        "x2": {"field": "date2"},
        "y": {"field": "price", "type": "quantitative", "scale": {"type": "log", "domain": [600, 155200], "nice": false}, "axis": null},
        "y2": {"field": "price2"}
      }
    },
    {
      "data": {"name": "heads"}, "transform": [{"filter": "datum.id == 1"}],
      "mark": {"type": "point", "shape": "M0,0L0.8,2L-0.8,2Z", "filled": true, "color": "#ff0d0d", "opacity": 1, "size": 484, "angle": 14, "strokeWidth": 0},
      "encoding": {"y": {"field": "price", "type": "quantitative", "scale": {"type": "log", "domain": [600, 155200], "nice": false}, "axis": null}}
    },
    {
      "data": {"name": "heads"}, "transform": [{"filter": "datum.id == 2"}],
      "mark": {"type": "point", "shape": "M0,0L0.8,2L-0.8,2Z", "filled": true, "color": "#ff0d0d", "opacity": 1, "size": 484, "angle": 137, "strokeWidth": 0},
      "encoding": {"y": {"field": "price", "type": "quantitative", "scale": {"type": "log", "domain": [600, 155200], "nice": false}, "axis": null}}
    },
    {
      "data": {"name": "heads"}, "transform": [{"filter": "datum.id == 3"}],
      "mark": {"type": "point", "shape": "M0,0L0.8,2L-0.8,2Z", "filled": true, "color": "#ff0d0d", "opacity": 1, "size": 484, "angle": 28, "strokeWidth": 0},
      "encoding": {"y": {"field": "price", "type": "quantitative", "scale": {"type": "log", "domain": [600, 155200], "nice": false}, "axis": null}}
    },
    {
      "data": {"name": "heads"}, "transform": [{"filter": "datum.id == 4"}],
      "mark": {"type": "point", "shape": "M0,0L0.8,2L-0.8,2Z", "filled": true, "color": "#ff0d0d", "opacity": 1, "size": 484, "angle": 143, "strokeWidth": 0},
      "encoding": {"y": {"field": "price", "type": "quantitative", "scale": {"type": "log", "domain": [600, 155200], "nice": false}, "axis": null}}
    },
    {
      "data": {"name": "heads"}, "transform": [{"filter": "datum.id == 5"}],
      "mark": {"type": "point", "shape": "M0,0L0.8,2L-0.8,2Z", "filled": true, "color": "#ff0d0d", "opacity": 1, "size": 484, "angle": 65, "strokeWidth": 0},
      "encoding": {"y": {"field": "price", "type": "quantitative", "scale": {"type": "log", "domain": [600, 155200], "nice": false}, "axis": null}}
    },
    {
      "data": {"name": "heads"}, "transform": [{"filter": "datum.id == 6"}],
      "mark": {"type": "point", "shape": "M0,0L0.8,2L-0.8,2Z", "filled": true, "color": "#ff0d0d", "opacity": 1, "size": 484, "angle": 142, "strokeWidth": 0},
      "encoding": {"y": {"field": "price", "type": "quantitative", "scale": {"type": "log", "domain": [600, 155200], "nice": false}, "axis": null}}
    }
  ],
  "resolve": {"scale": {"y": "independent"}, "axis": {"y": "independent"}}
}
